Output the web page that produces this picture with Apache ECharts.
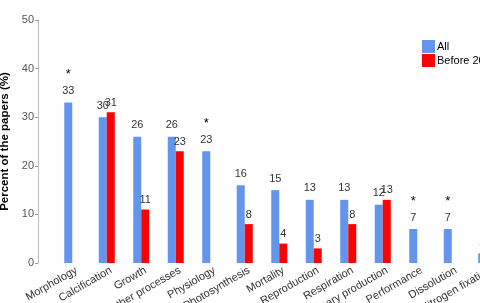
<!DOCTYPE html>
<html>
<head>
<meta charset="utf-8">
<script src="https://cdn.jsdelivr.net/npm/echarts@6/dist/echarts.min.js"></script>
<style>
  html, body { margin: 0; padding: 0; background: #fff; }
  #chart { width: 480px; height: 303px; }
</style>
</head>
<body>
<div id="chart"></div>
<script>
var categories = ['Morphology', 'Calcification', 'Growth', 'Other processes', 'Physiology',
  'Photosynthesis', 'Mortality', 'Reproduction', 'Respiration', 'Primary production',
  'Performance', 'Dissolution', 'Nitrogen fixation']
var allValues = [33, 30, 26, 26, 23, 16, 15, 13, 13, 12, 7, 7, 2]
var beforeValues = [null, 31, 11, 23, null, 8, 4, 3, 8, 13, null, null, null]
var starred = [1, 0, 0, 0, 1, 0, 0, 0, 0, 0, 1, 1, 1]
var yTicks = [0, 10, 20, 30, 40, 50]

var chart = echarts.init(document.getElementById('chart'))

var option = {
  animation: false,
  textStyle: { fontFamily: 'Liberation Sans, Arial, sans-serif' },
  legend: {
    orient: 'vertical',
    left: 417,
    top: 35,
    itemWidth: 13,
    itemHeight: 13,
    itemGap: 1,
    icon: 'rect',
    textStyle: { fontSize: 11, color: '#000', padding: [0, 0, 0, -3] },
    data: ['All', 'Before 2010']
  },
  grid: {
    left: 55,
    top: 20,
    bottom: 40,
    width: 448.5,
    containLabel: false,
    outerBoundsMode: 'none'
  },
  xAxis: {
    type: 'category',
    data: categories,
    axisLine: { show: false },
    axisTick: { show: false },
    axisLabel: {
      interval: 0,
      rotate: 30,
      fontSize: 11,
      color: '#333',
      margin: 9,
      padding: [0, -5, 0, 0]
    }
  },
  yAxis: {
    type: 'value',
    min: yTicks[0],
    max: yTicks[yTicks.length - 1],
    interval: 10,
    offset: 17,
    name: 'Percent of the papers (%)',
    nameLocation: 'middle',
    nameGap: 26,
    nameTextStyle: { fontSize: 11.5, fontWeight: 'bold', color: '#000' },
    splitLine: { show: false },
    axisLine: { show: true, lineStyle: { color: '#bbb' } },
    axisTick: { show: true, length: 3, lineStyle: { color: '#999' } },
    axisLabel: { fontSize: 11, color: '#555', margin: 4 }
  },
  series: [
    {
      name: 'All',
      type: 'bar',
      barWidth: 8,
      barGap: '0%',
      itemStyle: { color: '#6495ED' },
      label: {
        show: true,
        position: 'top',
        distance: 4,
        fontSize: 11,
        color: '#333',
        lineHeight: 15,
        formatter: function (p) {
          return starred[p.dataIndex] ? '{s|*}\n' + p.value : '' + p.value
        },
        rich: {
          s: { fontSize: 13, color: '#000', lineHeight: 18 }
        }
      },
      data: allValues
    },
    {
      name: 'Before 2010',
      type: 'bar',
      barWidth: 8,
      itemStyle: { color: '#FF0000' },
      label: {
        show: true,
        position: 'top',
        distance: 4,
        fontSize: 11,
        color: '#333'
      },
      data: beforeValues
    }
  ]
}

chart.setOption(option)
</script>
</body>
</html>
